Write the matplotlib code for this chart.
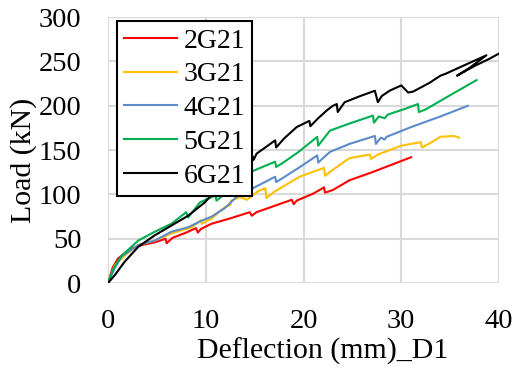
import matplotlib
matplotlib.use('Agg')
import matplotlib.pyplot as plt

plt.rcParams['font.family'] = ['Liberation Serif', 'DejaVu Serif']

# 荷载-挠度数据
x_2g21 = [0, 0.5, 1.05, 2.4, 3.5, 4.8, 5.9, 6.0, 6.6, 8.0, 9.0, 9.2, 9.5, 10.6, 12.5,
          14.5, 14.7, 15.2, 17.0, 18.8, 19.0, 19.3, 21.0, 22.1, 22.2, 23.0, 24.7, 27.0, 31.0]
y_2g21 = [0, 18, 28, 39, 43, 46, 50, 45, 51, 57, 62, 57, 61, 67, 73,
          80, 76, 80, 87, 94, 89, 93, 101, 108, 102, 105, 116, 125, 142]

x_3g21 = [0, 0.7, 1.7, 3.1, 4.8, 6.5, 8.6, 9.5, 9.6, 10.6, 12.0, 12.5, 12.6, 13.5, 14.2,
          15.4, 16.1, 16.2, 17.0, 19.6, 22.1, 22.2, 22.9, 24.7, 26.8, 26.9, 27.6, 30.0,
          32.0, 32.1, 32.8, 34.0, 35.4, 35.9]
y_3g21 = [0, 20, 31, 43, 48, 56, 63, 71, 67, 73, 86, 88, 93, 97, 94,
          104, 107, 96, 103, 120, 130, 121, 127, 141, 145, 140, 145, 155,
          159, 153, 157, 165, 166, 164]

x_4g21 = [0, 0.7, 1.4, 3.1, 4.8, 6.5, 8.2, 9.5, 10.6, 12.0, 13.5, 15.0, 17.1, 17.2, 17.8,
          19.5, 21.4, 21.5, 22.7, 24.7, 27.3, 27.4, 27.9, 28.3, 28.5, 31.0, 34.0, 36.8]
y_4g21 = [0, 17, 30, 43, 48, 58, 63, 70, 75, 85, 101, 108, 120, 114, 118,
          130, 144, 136, 148, 157, 166, 157, 164, 162, 165, 176, 188, 200]

x_5g21 = [0, 0.5, 1.4, 3.1, 4.8, 6.5, 8.0, 8.2, 9.4, 11.0, 11.1, 12.0, 13.5, 14.5, 17.1,
          17.2, 17.8, 19.5, 21.4, 21.5, 22.7, 24.7, 27.1, 27.2, 27.7, 28.3, 28.6, 30.5,
          31.7, 31.8, 32.5, 35.0, 37.7]
y_5g21 = [0, 15, 31, 48, 58, 67, 80, 74, 91, 99, 93, 101, 114, 125, 137,
          131, 135, 148, 165, 155, 172, 180, 189, 181, 188, 186, 190, 197,
          202, 193, 196, 212, 229]

x_6g21 = [0, 0.7, 1.7, 3.1, 4.8, 6.5, 8.2, 9.9, 10.9, 12.0, 13.5, 14.8, 14.9, 15.2, 17.1,
          17.2, 18.0, 19.3, 20.6, 20.7, 21.5, 22.4, 23.0, 23.4, 23.5, 24.2, 25.8, 26.8,
          27.3, 27.6, 28.0, 28.8, 30.0, 30.7, 31.2, 32.9, 34.0, 34.5, 35.7, 37.3, 38.7,
          37.0, 35.7, 37.5, 39.0, 40.0]
y_6g21 = [0, 9, 24, 41, 54, 65, 76, 91, 103, 115, 136, 143, 139, 146, 161,
          153, 163, 176, 183, 177, 186, 195, 200, 202, 193, 204, 211, 215,
          217, 204, 211, 217, 223, 215, 216, 226, 234, 236, 242, 250, 257,
          243, 234, 245, 253, 259]

series = [
    ('2G21', x_2g21, y_2g21, '#ff0000'),
    ('3G21', x_3g21, y_3g21, '#ffc000'),
    ('4G21', x_4g21, y_4g21, '#5b8bc9'),
    ('5G21', x_5g21, y_5g21, '#00b050'),
    ('6G21', x_6g21, y_6g21, '#000000'),
]

fig = plt.figure(figsize=(5.14, 3.73), dpi=100)
ax = fig.add_axes([0.210, 0.241, 0.761, 0.713])

for name, xs, ys, c in series:
    ax.plot(xs, ys, color=c, linewidth=1.5, label=name)

ax.set_xlim(0, 40)
ax.set_ylim(0, 300)
ax.set_xticks(range(0, 41, 10))
ax.set_yticks(range(0, 301, 50))
ax.grid(True, color='#d9d9d9', linewidth=1.5)
ax.set_axisbelow(True)
for s in ax.spines.values():
    s.set_visible(False)
ax.tick_params(length=0, labelsize=20.5, pad=19)

# 轴标题 (Excel 风格, 略偏离中心)
ax.set_xlabel('Deflection (mm)_D1', fontsize=21.5, labelpad=2)
ax.set_ylabel('Load (kN)', fontsize=21.5, labelpad=1)
ax.xaxis.set_label_coords(0.55, -0.205)
ax.yaxis.label.set_y(0.46)

leg = ax.legend(loc='upper left', bbox_to_anchor=(0.023, 0.985), borderaxespad=0,
                fontsize=20, frameon=True, fancybox=False, framealpha=1,
                handlelength=1.9, handletextpad=0.25, labelspacing=0.3,
                borderpad=0.25)
leg.get_frame().set_edgecolor('black')
leg.get_frame().set_linewidth(1.5)

fig.savefig('out.png', dpi=100)
